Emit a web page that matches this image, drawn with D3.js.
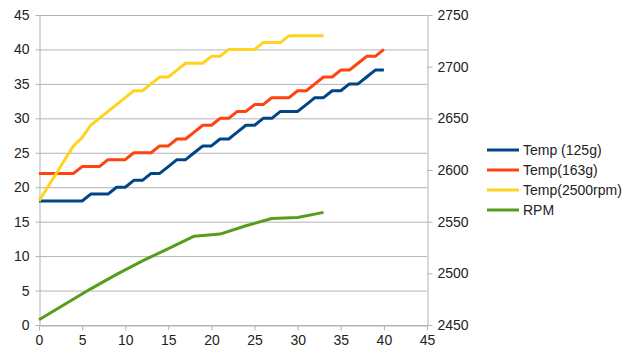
<!DOCTYPE html>
<html><head><meta charset="utf-8">
<script src="https://cdn.jsdelivr.net/npm/d3@7/dist/d3.min.js"></script>
<style>body{margin:0;background:#fff}svg{display:block;font-family:"Liberation Sans",Arial,sans-serif}</style>
</head><body><svg id="c" width="636" height="358"></svg>
<script>
const xTicks = [0,5,10,15,20,25,30,35,40,45];
const leftTicks = [0,5,10,15,20,25,30,35,40,45];
const rightTicks = [2450,2500,2550,2600,2650,2700,2750];
const seriesNames = ["Temp (125g)","Temp(163g)","Temp(2500rpm)","RPM"];
const seriesColors = ["#004586","#ff420e","#ffd320","#579d1c"];

const temp125 = [18,18,18,18,18,18,19,19,19,20,20,21,21,22,22,23,24,24,25,26,26,27,27,28,29,29,30,30,31,31,31,32,33,33,34,34,35,35,36,37,37];
const temp163 = [22,22,22,22,22,23,23,23,24,24,24,25,25,25,26,26,27,27,28,29,29,30,30,31,31,32,32,33,33,33,34,34,35,36,36,37,37,38,39,39,40];
const temp2500 = [18,20,22,24,26,27.2,29,30,31,32,33,34,34,35,36,36,37,38,38,38,39,39,40,40,40,40,41,41,41,42,42,42,42,42];
const rpmX = [0,3,6,9,12,15,18,21,24,27,30,33];
const rpmVals = [2455,2470,2485,2499,2512,2524,2536,2538,2546,2553,2554,2559];

const svg = d3.select("#c");
const L = 39, R = 427, T = 15, B = 325;
const x = d3.scaleLinear().domain([0,45]).range([L,R]);
const yL = d3.scaleLinear().domain([0,45]).range([B,T]);
const yR = d3.scaleLinear().domain([2450,2750]).range([B,T]);
const grid = "#b3b3b3";
const FS = "14px";

svg.append("g").selectAll("line").data(leftTicks).join("line")
  .attr("x1",L).attr("x2",R).attr("y1",d=>yL(d)+0.5).attr("y2",d=>yL(d)+0.5)
  .attr("stroke",grid).attr("stroke-width",1);

function styleAxis(g){
  g.select(".domain").attr("stroke",grid);
  g.selectAll(".tick line").attr("stroke",grid);
  g.selectAll("text").attr("fill","#222").style("font-size",FS).style("font-family",'"Liberation Sans",Arial,sans-serif');
}
svg.append("g").attr("transform",`translate(${L+0.5},0)`)
  .call(d3.axisLeft(yL).tickValues(leftTicks).tickSize(4).tickSizeOuter(0).tickPadding(6))
  .call(styleAxis);
svg.append("g").attr("transform",`translate(${R+0.5},0)`)
  .call(d3.axisRight(yR).tickValues(rightTicks).tickFormat(d3.format("d")).tickSize(5).tickSizeOuter(0).tickPadding(5))
  .call(styleAxis);
svg.append("g").attr("transform",`translate(0,${B+0.5})`)
  .call(d3.axisBottom(x).tickValues(xTicks).tickSize(5).tickSizeOuter(0).tickPadding(5))
  .call(styleAxis);

const lineL = d3.line().x((d,i)=>x(i)).y(d=>yL(d));
[temp125,temp163,temp2500].forEach((s,k)=>{
  svg.append("path").datum(s).attr("d",lineL).attr("fill","none")
    .attr("stroke",seriesColors[k]).attr("stroke-width",3).attr("stroke-linejoin","round");
});
const lineR = d3.line().x((d,i)=>x(rpmX[i])).y(d=>yR(d));
svg.append("path").datum(rpmVals).attr("d",lineR).attr("fill","none")
  .attr("stroke",seriesColors[3]).attr("stroke-width",3).attr("stroke-linejoin","round");

const lg = svg.append("g");
seriesNames.forEach((n,i)=>{
  const yy = 150 + i*20;
  lg.append("line").attr("x1",487).attr("x2",519).attr("y1",yy).attr("y2",yy)
    .attr("stroke",seriesColors[i]).attr("stroke-width",3);
  lg.append("text").attr("x",523).attr("y",yy).attr("dy","0.35em")
    .style("font-size",FS).attr("fill","#222").text(n);
});
</script></body></html>
